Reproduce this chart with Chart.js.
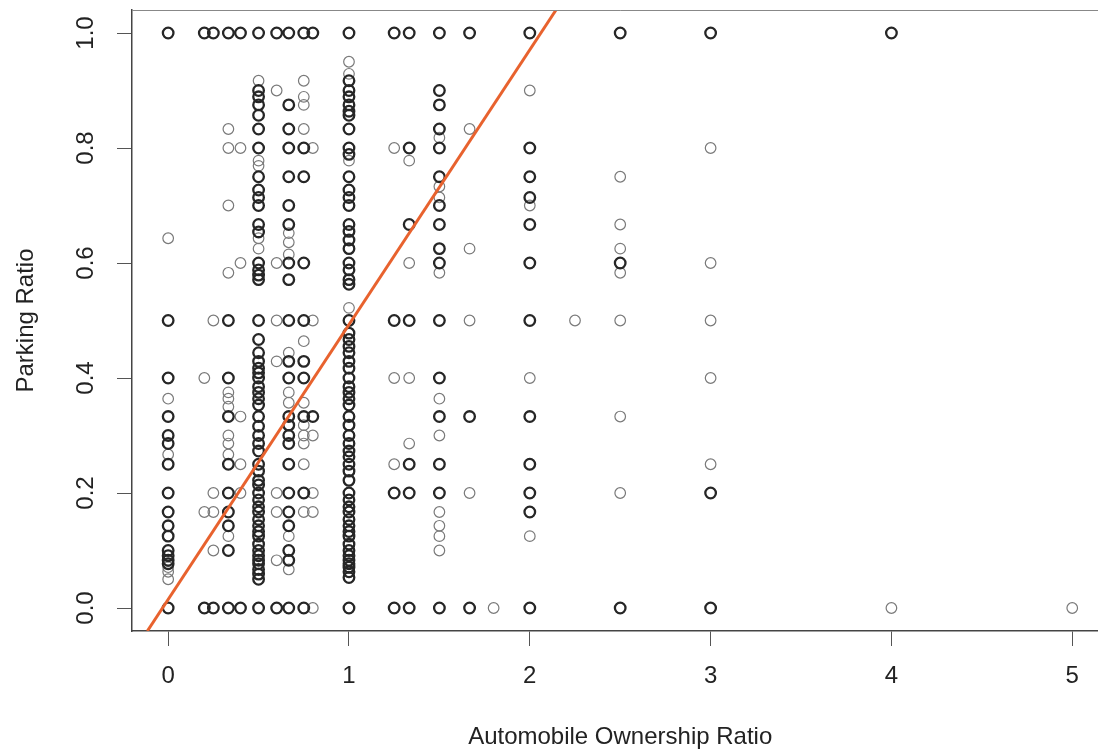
<!DOCTYPE html>
<html>
<head>
<meta charset="utf-8">
<script src="https://cdn.jsdelivr.net/npm/chart.js@4.4.1/dist/chart.umd.min.js"></script>
<style>
  html, body { margin: 0; padding: 0; background: #fff; overflow: hidden; }
  #wrap { width: 1098px; height: 752px; overflow: hidden; }
  canvas { display: block; }
</style>
</head>
<body>
<div id="wrap"><canvas id="chart" width="1116" height="752"></canvas></div>
<script>
// x values of the columns of observations (automobile ownership ratio)
const colX = [0, 0.2, 0.25, 0.333, 0.4, 0.5, 0.6, 0.667, 0.75, 0.8, 1, 1.25, 1.333, 1.5, 1.667, 1.8, 2, 2.25, 2.5, 3, 4, 5];

// parking ratios drawn heavy (repeated observations), one list per column
const boldY = [
    [1, 0.5, 0.4, 0.333, 0.3, 0.286, 0.25, 0.2, 0.167, 0.143, 0.125, 0.1, 0.091, 0.083, 0.077, 0],
    [1, 0],
    [1, 0],
    [1, 0.5, 0.4, 0.333, 0.25, 0.2, 0.167, 0.143, 0.1, 0],
    [1, 0],
    [1, 0.9, 0.889, 0.875, 0.857, 0.833, 0.8, 0.75, 0.727, 0.714, 0.7, 0.667, 0.654, 0.6, 0.588, 0.579, 0.571, 0.5,
     0.467, 0.444, 0.429, 0.417, 0.409, 0.4, 0.385, 0.375, 0.364, 0.353, 0.333, 0.316, 0.3, 0.286, 0.273, 0.25, 0.238,
     0.222, 0.214, 0.2, 0.188, 0.176, 0.167, 0.154, 0.143, 0.133, 0.125, 0.111, 0.1, 0.091, 0.083, 0.077, 0.067, 0.059, 0.05, 0],
    [1, 0],
    [1, 0.875, 0.833, 0.8, 0.75, 0.7, 0.667, 0.6, 0.571, 0.5, 0.429, 0.4, 0.333, 0.318, 0.3, 0.286, 0.25, 0.2, 0.167, 0.143, 0.1, 0.083, 0],
    [1, 0.8, 0.75, 0.6, 0.5, 0.429, 0.4, 0.333, 0.2, 0],
    [1, 0.333],
    [1, 0.917, 0.9, 0.889, 0.875, 0.864, 0.857, 0.833, 0.8, 0.789, 0.75, 0.727, 0.714, 0.7, 0.667, 0.655, 0.64, 0.625,
     0.6, 0.588, 0.571, 0.563, 0.5, 0.478, 0.467, 0.455, 0.444, 0.429, 0.417, 0.4, 0.385, 0.375, 0.364, 0.353, 0.333,
     0.318, 0.3, 0.286, 0.273, 0.263, 0.25, 0.238, 0.222, 0.2, 0.188, 0.176, 0.167, 0.154, 0.143, 0.133, 0.125, 0.111,
     0.1, 0.091, 0.083, 0.077, 0.071, 0.063, 0.053, 0],
    [1, 0.5, 0.2, 0],
    [1, 0.8, 0.667, 0.5, 0.25, 0.2, 0],
    [1, 0.9, 0.875, 0.833, 0.8, 0.75, 0.7, 0.667, 0.625, 0.6, 0.5, 0.4, 0.333, 0.25, 0.2, 0],
    [1, 0.333, 0],
    [],
    [1, 0.8, 0.75, 0.714, 0.667, 0.6, 0.5, 0.333, 0.25, 0.2, 0.167, 0],
    [],
    [1, 0.6, 0],
    [1, 0.2, 0],
    [1],
    []
];

// parking ratios seen only once (faint circles), one list per column
const faintY = [
    [0.643, 0.364, 0.267, 0.071, 0.063, 0.05],
    [0.4, 0.167],
    [0.5, 0.2, 0.167, 0.1],
    [0.833, 0.8, 0.7, 0.583, 0.375, 0.364, 0.35, 0.3, 0.286, 0.267, 0.125],
    [0.8, 0.6, 0.333, 0.25, 0.2],
    [0.917, 0.778, 0.769, 0.643, 0.625],
    [0.9, 0.6, 0.5, 0.429, 0.2, 0.167, 0.083],
    [0.652, 0.636, 0.615, 0.444, 0.375, 0.357, 0.125, 0.067],
    [0.917, 0.889, 0.875, 0.833, 0.464, 0.357, 0.318, 0.3, 0.286, 0.25, 0.167],
    [0.8, 0.5, 0.3, 0.2, 0.167, 0],
    [0.95, 0.929, 0.778, 0.522],
    [0.8, 0.4, 0.25],
    [0.778, 0.6, 0.4, 0.286],
    [0.818, 0.733, 0.714, 0.583, 0.364, 0.3, 0.167, 0.143, 0.125, 0.1],
    [0.833, 0.625, 0.5, 0.2],
    [0],
    [0.9, 0.7, 0.4, 0.125],
    [0.5],
    [0.75, 0.667, 0.625, 0.583, 0.5, 0.333, 0.2],
    [0.8, 0.6, 0.5, 0.4, 0.25],
    [0],
    [0]
];

// fitted line, read where it leaves the plot box
const fitX = [-0.115, 2.145];
const fitY = [-0.04, 1.04];

const xTicks = [0, 1, 2, 3, 4, 5];
const yTicks = [0, 0.2, 0.4, 0.6, 0.8, 1.0];

function toPoints(cols) {
    return cols.flatMap((ys, i) => ys.map(y => ({ x: colX[i], y: y })));
}

const font = { family: 'Liberation Sans, Arial, sans-serif', size: 24 };

// top edge of the plot box (the right edge falls outside the window)
const boxPlugin = {
    id: 'box',
    afterDraw(chart) {
        const { ctx, chartArea } = chart;
        ctx.save();
        ctx.strokeStyle = '#888';
        ctx.lineWidth = 1;
        ctx.beginPath();
        ctx.moveTo(chartArea.left, chartArea.top + 0.5);
        ctx.lineTo(chartArea.right, chartArea.top + 0.5);
        ctx.lineTo(chartArea.right, chartArea.bottom);
        ctx.stroke();
        ctx.restore();
    }
};

new Chart(document.getElementById('chart'), {
    type: 'scatter',
    data: {
        datasets: [{
            type: 'line',
            data: fitX.map((x, i) => ({ x: x, y: fitY[i] })),
            borderColor: '#e8622e',
            borderWidth: 3,
            pointRadius: 0,
            fill: false
        }, {
            data: toPoints(boldY),
            pointStyle: 'circle',
            pointRadius: 5.3,
            borderColor: '#262626',
            borderWidth: 2.3,
            backgroundColor: 'rgba(0,0,0,0)'
        }, {
            data: toPoints(faintY),
            pointStyle: 'circle',
            pointRadius: 5.3,
            borderColor: '#7a7a7a',
            borderWidth: 1.2,
            backgroundColor: 'rgba(0,0,0,0)'
        }]
    },
    options: {
        responsive: false,
        animation: false,
        events: [],
        layout: { padding: { top: 10, right: 2, left: 0, bottom: 0 } },
        plugins: {
            legend: { display: false },
            tooltip: { enabled: false }
        },
        scales: {
            x: {
                type: 'linear',
                min: -0.2,
                max: 5.2,
                afterBuildTicks: s => { s.ticks = xTicks.map(v => ({ value: v })); },
                afterFit: s => { s.height = 121; s.paddingLeft = 0; s.paddingRight = 0; },
                grid: { display: true, drawOnChartArea: false, drawTicks: true, tickLength: 15, color: '#555', lineWidth: 1 },
                border: { display: true, color: '#444', width: 1.5 },
                ticks: { font: font, color: '#222', padding: 16, callback: v => String(v) },
                title: {
                    display: true,
                    text: 'Automobile Ownership Ratio',
                    font: { family: font.family, size: 24, lineHeight: 1.2 },
                    color: '#222',
                    padding: { top: 0, bottom: 0 }
                }
            },
            y: {
                type: 'linear',
                min: -0.04,
                max: 1.04,
                afterBuildTicks: s => { s.ticks = yTicks.map(v => ({ value: v })); },
                afterFit: s => { s.width = 132; s.paddingTop = 0; s.paddingBottom = 0; },
                grid: { display: true, drawOnChartArea: false, drawTicks: true, tickLength: 15, color: '#555', lineWidth: 1 },
                border: { display: true, color: '#444', width: 1.5 },
                ticks: {
                    font: font,
                    color: '#222',
                    padding: 14,
                    minRotation: 90,
                    maxRotation: 90,
                    crossAlign: 'center',
                    callback: v => v.toFixed(1)
                },
                title: {
                    display: true,
                    text: 'Parking Ratio',
                    font: { family: font.family, size: 24, lineHeight: 1.2 },
                    color: '#222',
                    padding: { top: 12, bottom: 0 }
                }
            }
        }
    },
    plugins: [boxPlugin]
});
</script>
</body>
</html>
